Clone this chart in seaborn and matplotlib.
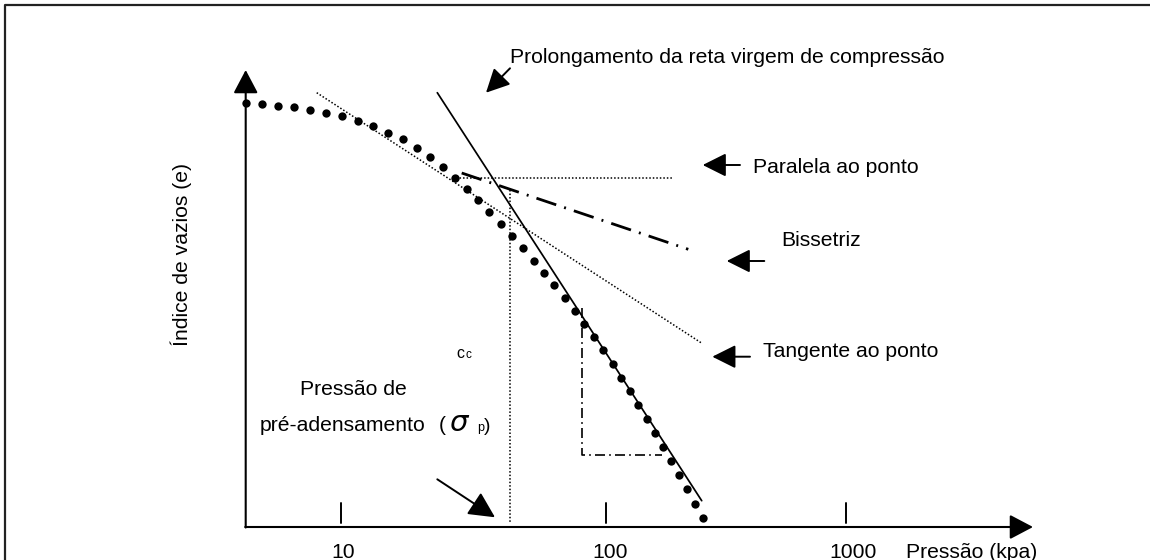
import matplotlib
matplotlib.use("Agg")
import matplotlib.pyplot as plt
import seaborn as sns

# ---------------- data (diagram units: x grows with log-pressure, y measured downward) -------------
curve_x = [245.7, 262.0, 278.3, 294.0, 310.0, 326.3, 342.0, 357.7, 373.3, 388.3,
           402.7, 416.7, 430.0, 442.7, 455.0, 466.7, 478.3, 489.3, 501.0, 512.3,
           523.3, 533.7, 544.0, 554.3, 564.7, 574.7, 584.3, 594.3, 603.3, 612.7,
           621.3, 630.0, 638.0, 646.7, 655.0, 663.3, 671.3, 679.0, 686.7, 694.7, 702.7]
curve_y = [102.7, 104.3, 106.0, 107.3, 110.0, 112.7, 116.0, 120.7, 126.0, 132.7,
           139.3, 147.7, 156.7, 167.3, 178.3, 189.3, 200.0, 211.7, 224.0, 236.0,
           248.3, 260.7, 272.7, 285.3, 298.0, 310.7, 323.7, 336.7, 350.0, 363.7,
           377.7, 391.0, 405.0, 419.0, 433.0, 447.0, 461.0, 475.3, 489.3, 504.0, 518.0]

virgin_x, virgin_y = [437.3, 701.7], [92.7, 500.7]          # prolongamento da reta virgem
tangent_x, tangent_y = [316.7, 701.0], [92.7, 342.7]        # tangente ao ponto
parallel_x, parallel_y = [456.0, 672.7], [178.0, 178.0]     # paralela ao ponto
bisector_x, bisector_y = [461.7, 688.3], [173.0, 249.3]     # bissetriz
sigp_x, sigp_y = [509.7, 509.7], [190.0, 523.0]             # pressão de pré-adensamento
cc_x, cc_y = [581.7, 581.7, 661.7], [308.0, 455.0, 455.0]   # triângulo Cc

origin = (245.7, 527.0)
y_axis_top = 70.0
x_axis_end = 1033.0
tick_pos = [341.3, 605.7, 845.7]
tick_labels = ["10", "100", "1000"]
tick_label_x = [343.5, 610.0, 853.0]

# ---------------- figure ----------------
sns.set_theme(style="white")
plt.rcParams["font.family"] = ["Liberation Sans", "DejaVu Sans"]

fig = plt.figure(figsize=(11.5, 5.6), dpi=100)
ax = fig.add_axes([0, 0, 1, 1])
ax.set_xlim(0, 1150)
ax.set_ylim(560, 0)
ax.axis("off")

K = "black"
FS = 15.25

# outer frame (top and left edges visible)
sns.lineplot(x=[5, 5, 1160], y=[570, 5, 5], sort=False, estimator=None,
             color="#222222", lw=1.6, ax=ax)

# axes with arrowheads
axis_arrow = dict(arrowstyle="-|>,head_length=1.44,head_width=0.76", color=K,
                  lw=1.5, shrinkA=0, shrinkB=0, mutation_scale=10)
ax.annotate("", xy=(origin[0], y_axis_top), xytext=(origin[0], origin[1] + 0.5),
            arrowprops=axis_arrow)
ax.annotate("", xy=(x_axis_end, origin[1]), xytext=(origin[0] - 0.5, origin[1]),
            arrowprops=axis_arrow)

# ticks
for tx in tick_pos:
    sns.lineplot(x=[tx, tx], y=[503, 523], sort=False, estimator=None, color=K, lw=1.4, ax=ax)
for lx, lab in zip(tick_label_x, tick_labels):
    ax.text(lx, 558, lab, ha="center", va="baseline", fontsize=FS, color=K)
ax.text(906, 558, "Pressão (kpa)", ha="left", va="baseline", fontsize=FS, color=K)
ax.text(181, 254, "Índice de vazios (e)", rotation=90, ha="center", va="center",
        fontsize=FS, color=K)

# construction lines
sns.lineplot(x=virgin_x, y=virgin_y, sort=False, estimator=None, color=K, lw=1.25, ax=ax)
dotted = (0, (1, 1.3))
for xs, ys in [(tangent_x, tangent_y), (parallel_x, parallel_y), (sigp_x, sigp_y)]:
    sns.lineplot(x=xs, y=ys, sort=False, estimator=None, color=K, lw=1.1,
                 linestyle=dotted, ax=ax)
sns.lineplot(x=bisector_x, y=bisector_y, sort=False, estimator=None, color=K, lw=2.0,
             linestyle=(0, (7.5, 3, 0.7, 3)), ax=ax)
sns.lineplot(x=cc_x, y=cc_y, sort=False, estimator=None, color=K, lw=1.2,
             linestyle=(0, (6, 2.5, 1, 2.5)), ax=ax)

# consolidation curve (dots)
sns.scatterplot(x=curve_x, y=curve_y, color=K, s=36, linewidth=0, ax=ax, zorder=5)

# pointer arrows
ptr = dict(arrowstyle="-|>,head_length=1.44,head_width=0.72", color=K, lw=1.4,
           shrinkA=0, shrinkB=0, mutation_scale=10)
ax.annotate("", xy=(486.0, 92.7), xytext=(510.0, 68.3), arrowprops=ptr)
ax.annotate("", xy=(702.7, 165.0), xytext=(740.0, 165.0), arrowprops=ptr)
ax.annotate("", xy=(726.7, 261.0), xytext=(764.3, 261.0), arrowprops=ptr)
ax.annotate("", xy=(712.3, 356.7), xytext=(750.0, 356.7), arrowprops=ptr)
ptr2 = dict(ptr, arrowstyle="-|>,head_length=1.6,head_width=0.8")
ax.annotate("", xy=(495.0, 517.3), xytext=(437.3, 479.3), arrowprops=ptr2)

# labels
ax.text(510, 63, "Prolongamento da reta virgem de compressão", ha="left", va="baseline",
        fontsize=FS, color=K)
ax.text(752.7, 173, "Paralela ao ponto", ha="left", va="baseline", fontsize=FS, color=K)
ax.text(781.7, 245.5, "Bissetriz", ha="left", va="baseline", fontsize=FS, color=K)
ax.text(763.3, 357, "Tangente ao ponto", ha="left", va="baseline", fontsize=FS, color=K)
ax.text(456, 357.5, "c", ha="left", va="baseline", fontsize=11.5, color=K)
ax.text(465.5, 358.5, "c", ha="left", va="baseline", fontsize=8.5, color=K)
ax.text(300, 395, "Pressão de", ha="left", va="baseline", fontsize=FS, color=K)
ax.text(260, 431, "pré-adensamento", ha="left", va="baseline", fontsize=FS, color=K)
ax.text(439, 431, "(", ha="left", va="baseline", fontsize=FS, color=K)
ax.text(449, 431, "σ", ha="left", va="baseline", fontsize=21, fontstyle="oblique",
        family=["DejaVu Sans"], color=K)
ax.text(477, 431, "p", ha="left", va="baseline", fontsize=9, color=K)
ax.text(484, 431, ")", ha="left", va="baseline", fontsize=FS - 1.5, color=K)

fig.savefig("out.png", dpi=100)
